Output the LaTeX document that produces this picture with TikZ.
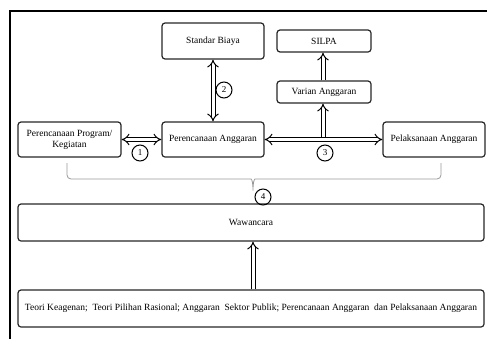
\documentclass[tikz,border=0pt]{standalone}
\usepackage{fontspec}
\setmainfont{Liberation Serif}
\usetikzlibrary{arrows.meta}

\tikzset{
  box/.style={draw=black!85, line width=1.2pt, rounded corners=3pt, align=center, inner sep=0pt},
  num/.style={draw, circle, line width=1pt, inner sep=0pt, minimum size=16pt, font=\fontsize{9}{10}\selectfont},
  dbl/.style={double, double distance=3pt, line width=1pt},
  brace/.style={draw=black!40, line width=0.8pt, rounded corners=4pt},
}

\begin{document}
\begin{tikzpicture}[x=1pt,y=-1pt,font=\fontsize{9.5}{11}\selectfont]
\useasboundingbox (0,0) rectangle (487,338);
\clip (0,0) rectangle (487,338);
\draw[line width=1.5pt] (10,11) rectangle (495,345);

% boxes
\node[box, minimum width=102pt, minimum height=36pt] (biaya) at (213,41) {Standar Biaya};
\node[box, minimum width=94pt, minimum height=22pt] (silpa) at (324,41) {SILPA};
\node[box, minimum width=94pt, minimum height=22pt] (varian) at (324,92) {Varian Anggaran};
\node[box, minimum width=103pt, minimum height=35pt] (program) at (69.5,139.5) {Perencanaan Program/\\Kegiatan};
\node[box, minimum width=102pt, minimum height=35pt] (anggaran) at (213,139.5) {Perencanaan Anggaran};
\node[box, minimum width=102pt, minimum height=35pt] (pelaksanaan) at (434,139.5) {Pelaksanaan Anggaran};
\node[box, minimum width=466pt, minimum height=37pt] (wawancara) at (251,222.5) {Wawancara};
\node[box, minimum width=466pt, minimum height=37pt] (teori) at (251,308.5) {Teori Keagenan;\ \ Teori Pilihan Rasional; Anggaran\ \ Sektor Publik; Perencanaan Anggaran\ \ dan Pelaksanaan Anggaran};

% arrows
\draw[dbl, {Implies}-{Implies}] (program.east) -- (anggaran.west);
\draw[dbl, {Implies}-{Implies}] (biaya.south) -- (anggaran.north);
\draw[dbl, {Implies}-{Implies}] (anggaran.east) -- (pelaksanaan.west);
\coordinate (split) at ([xshift=-1pt,yshift=3pt]varian.south |- anggaran.east);
\draw[dbl, -{Implies}] (split) -- ([xshift=-1pt]varian.south);
\draw[dbl, -{Implies}] ([xshift=-1pt]varian.north) -- ([xshift=-1pt]silpa.south);
\draw[dbl, -{Implies}] ([xshift=2pt]teori.north) -- ([xshift=2pt]wawancara.south);

% bracket
\draw[brace] (67,163) -- (67,179) -- (247,179) .. controls (252,179) and (253,184) .. (253,193)
  .. controls (253,184) and (254,179) .. (259,179) -- (441,179) -- (441,163);

% numbers
\node[num] (n1) at (140,153) {1};
\node[num] (n2) at (224,90) {2};
\node[num] (n3) at (325,153) {3};
\node[num] (n4) at (263,197) {4};
\end{tikzpicture}
\end{document}
